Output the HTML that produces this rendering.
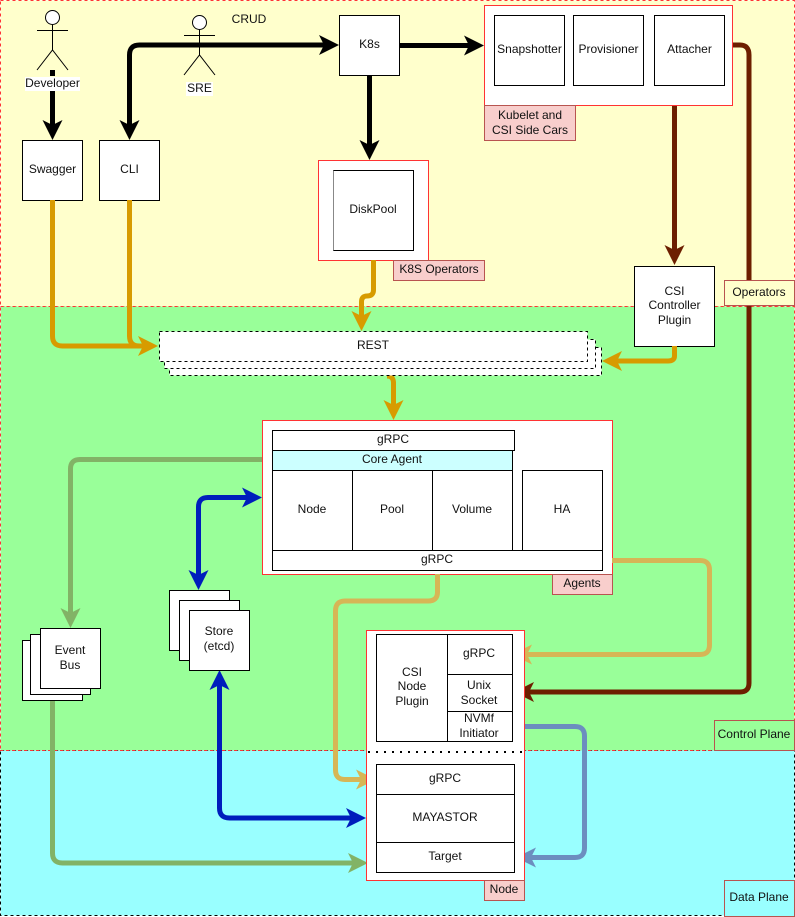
<!DOCTYPE html>
<html><head><meta charset="utf-8"><style>
html,body{margin:0;padding:0;background:#fff}
svg{display:block;font-family:"Liberation Sans",sans-serif;font-size:12px}
text{text-anchor:middle;dominant-baseline:middle;fill:#111}
</style></head><body>
<svg width="795" height="917" viewBox="0 0 795 917" xmlns="http://www.w3.org/2000/svg">
<defs>
<marker id="mk" viewBox="0 0 20 20" refX="14" refY="10" markerUnits="userSpaceOnUse" markerWidth="20" markerHeight="20" orient="auto-start-reverse"><path d="M0,0 L20,10 L0,20 L5,10Z" fill="#000"/></marker>
<marker id="mo" viewBox="0 0 20 20" refX="14" refY="10" markerUnits="userSpaceOnUse" markerWidth="20" markerHeight="20" orient="auto-start-reverse"><path d="M0,0 L20,10 L0,20 L5,10Z" fill="#d79b00"/></marker>
<marker id="mt" viewBox="0 0 20 20" refX="14" refY="10" markerUnits="userSpaceOnUse" markerWidth="20" markerHeight="20" orient="auto-start-reverse"><path d="M0,0 L20,10 L0,20 L5,10Z" fill="#d6b656"/></marker>
<marker id="mg" viewBox="0 0 20 20" refX="14" refY="10" markerUnits="userSpaceOnUse" markerWidth="20" markerHeight="20" orient="auto-start-reverse"><path d="M0,0 L20,10 L0,20 L5,10Z" fill="#82b366"/></marker>
<marker id="mb" viewBox="0 0 20 20" refX="14" refY="10" markerUnits="userSpaceOnUse" markerWidth="20" markerHeight="20" orient="auto-start-reverse"><path d="M0,0 L20,10 L0,20 L5,10Z" fill="#001dbc"/></marker>
<marker id="ms" viewBox="0 0 20 20" refX="14" refY="10" markerUnits="userSpaceOnUse" markerWidth="20" markerHeight="20" orient="auto-start-reverse"><path d="M0,0 L20,10 L0,20 L5,10Z" fill="#6c8ebf"/></marker>
<marker id="mr" viewBox="0 0 20 20" refX="14" refY="10" markerUnits="userSpaceOnUse" markerWidth="20" markerHeight="20" orient="auto-start-reverse"><path d="M0,0 L20,10 L0,20 L5,10Z" fill="#6d1f00"/></marker>
</defs>
<!-- regions -->
<rect x="0.5" y="0.5" width="794" height="306" fill="#ffffcc" stroke="#ff3333" stroke-dasharray="3,3"/>
<rect x="0.5" y="306.5" width="794" height="444" fill="#99ff99" stroke="#ff3333" stroke-dasharray="3,3"/>
<rect x="0.5" y="750.5" width="794" height="165" fill="#99ffff" stroke="#000" stroke-dasharray="3,3"/>
<line x1="0" y1="750.5" x2="795" y2="750.5" stroke="#ff3333" stroke-dasharray="3,3"/>

<!-- actors -->
<g stroke="#000" fill="none" stroke-width="1">
<circle cx="52.5" cy="17.5" r="7" fill="#fff"/><line x1="52.5" y1="25" x2="52.5" y2="50"/><line x1="37" y1="30.5" x2="68" y2="30.5"/><path d="M37,70 L52.5,50 L68,70"/>
<circle cx="199.5" cy="22.5" r="7" fill="#fff"/><line x1="199.5" y1="30" x2="199.5" y2="55"/><line x1="184" y1="35.5" x2="215" y2="35.5"/><path d="M184,75 L199.5,55 L215,75"/>
</g>
<rect x="25" y="77" width="55" height="14" fill="#fff"/><text x="52.5" y="84">Developer</text>
<rect x="186" y="82" width="27" height="14" fill="#fff"/><text x="199.5" y="89">SRE</text>
<text x="249" y="20">CRUD</text>

<!-- black arrows -->
<g stroke="#000" stroke-width="5" fill="none">
<path d="M52.5,70 V76 M52.5,91 V134" marker-end="url(#mk)"/>
<path d="M129.5,134 V55 Q129.5,45 139.5,45 H333" marker-start="url(#mk)" marker-end="url(#mk)"/>
<path d="M399,45.5 H478" marker-end="url(#mk)"/>
<path d="M369.5,75 V154" marker-end="url(#mk)"/>
</g>
<path d="M674.5,105 V259" stroke="#6d1f00" stroke-width="5" fill="none" marker-end="url(#mr)"/>
<path d="M732,45 H740 Q749,45 749,55 V683 Q749,692 740,692 H520" stroke="#6d1f00" stroke-width="5" fill="none" marker-end="url(#mr)"/>

<!-- top boxes -->
<g stroke="#000" fill="#fff">
<rect x="339.5" y="15.5" width="60" height="60"/>
<rect x="22.5" y="140.5" width="60" height="60"/>
<rect x="99.5" y="140.5" width="60" height="60"/>
</g>
<text x="369.5" y="45">K8s</text><text x="52.5" y="170">Swagger</text><text x="129.5" y="170">CLI</text>
<rect x="484.5" y="5.5" width="248" height="100" fill="#fff" stroke="#ff3333"/>
<g stroke="#000" fill="#fff"><rect x="494.5" y="15.5" width="70" height="70"/><rect x="573.5" y="15.5" width="70" height="70"/><rect x="654.5" y="15.5" width="70" height="70"/></g>
<text x="529.5" y="50">Snapshotter</text><text x="608.5" y="50">Provisioner</text><text x="689.5" y="50">Attacher</text>
<rect x="484.5" y="105.5" width="91" height="35" fill="#f8cecc" stroke="#b85450"/>
<text x="530" y="116">Kubelet and</text><text x="530" y="131">CSI Side Cars</text>
<rect x="318.5" y="160.5" width="110" height="100" fill="#fff" stroke="#ff3333"/>
<rect x="333.5" y="170.5" width="80" height="80" fill="#fff" stroke="#000"/>
<line x1="333.5" y1="170.5" x2="333.5" y2="250.5" stroke="#888" stroke-width="1"/>
<text x="373" y="210">DiskPool</text>
<rect x="393.5" y="260.5" width="91" height="20" fill="#f8cecc" stroke="#b85450"/><text x="439" y="270">K8S Operators</text>
<rect x="634.5" y="266.5" width="80" height="80" fill="#fff" stroke="#000"/>
<text x="674.5" y="292">CSI</text><text x="674.5" y="306">Controller</text><text x="674.5" y="321">Plugin</text>
<rect x="724.5" y="280.5" width="70" height="25" fill="#ffffcc" stroke="#b85450"/><text x="759" y="293">Operators</text>

<!-- orange arrows -->
<g stroke="#d79b00" stroke-width="5" fill="none">
<path d="M52.5,200 V336 Q52.5,346 62.5,346 H152" marker-end="url(#mo)"/>
<path d="M129.5,200 V336 Q129.5,346 139.5,346"/>
<path d="M373.5,260 V290 Q373.5,296 367,296 Q361.5,296 361.5,302 V325" marker-end="url(#mo)"/>
<path d="M674.5,346 V356 Q674.5,361 668,361 H608" marker-end="url(#mo)"/>
<path d="M387,376 Q393.5,376 393.5,383 V414" marker-end="url(#mo)"/>
</g>

<!-- REST -->
<g fill="#fff" stroke="#000" stroke-dasharray="3,3">
<rect x="169.5" y="347.5" width="432" height="28"/>
<rect x="164.5" y="339.5" width="431" height="29"/>
<rect x="159.5" y="331.5" width="428" height="30"/>
</g>
<text x="373" y="346">REST</text>

<!-- Agents -->
<rect x="262.5" y="420.5" width="350" height="154" fill="#fff" stroke="#ff3333"/>
<g stroke="#000" fill="#fff">
<rect x="272.5" y="430.5" width="242" height="20"/>
<rect x="272.5" y="450.5" width="240" height="20" fill="#ccffff"/>
<rect x="272.5" y="470.5" width="80" height="80"/><rect x="352.5" y="470.5" width="80" height="80"/><rect x="432.5" y="470.5" width="80" height="80"/>
<rect x="522.5" y="470.5" width="80" height="80"/>
<rect x="272.5" y="550.5" width="330" height="20"/>
</g>
<text x="393" y="440">gRPC</text><text x="392" y="460">Core Agent</text>
<text x="312" y="510">Node</text><text x="392" y="510">Pool</text><text x="472" y="510">Volume</text><text x="562" y="510">HA</text>
<text x="437" y="560">gRPC</text>
<rect x="552.5" y="574.5" width="60" height="20" fill="#f8cecc" stroke="#b85450"/><text x="582" y="584">Agents</text>

<!-- green-gray -->
<g stroke="#82b366" stroke-width="5" fill="none">
<path d="M262,459.5 H80 Q70.5,459.5 70.5,469 V622" marker-end="url(#mg)"/>
<path d="M52.5,700 V853 Q52.5,863 62.5,863 H362" marker-end="url(#mg)"/>
</g>
<!-- blue -->
<g stroke="#001dbc" stroke-width="5" fill="none">
<path d="M198.5,584 V507 Q198.5,497.5 208,497.5 H256" marker-start="url(#mb)" marker-end="url(#mb)"/>
<path d="M219.5,676 V808 Q219.5,818 229.5,818 H360" marker-start="url(#mb)" marker-end="url(#mb)"/>
</g>
<!-- tan -->
<g stroke="#d6b656" stroke-width="5" fill="none">
<path d="M437.5,574 V592 Q437.5,601 428,601 H345 Q335.5,601 335.5,611 V770 Q335.5,779.5 345,779.5 H370" marker-end="url(#mt)"/>
<path d="M612,560.5 H700 Q709.5,560.5 709.5,570 V645 Q709.5,654.5 700,654.5 H518" marker-end="url(#mt)"/>
</g>
<path d="M512,726.5 H575 Q584.5,726.5 584.5,736 V848 Q584.5,857.5 575,857.5 H522" stroke="#6c8ebf" stroke-width="5" fill="none" marker-end="url(#ms)"/>

<!-- Event bus -->
<g fill="#fff" stroke="#000"><rect x="22.5" y="640.5" width="60" height="60"/><rect x="30.5" y="634.5" width="60" height="60"/><rect x="40.5" y="628.5" width="60" height="60"/></g>
<text x="70" y="651">Event</text><text x="70" y="666">Bus</text>
<!-- Store -->
<g fill="#fff" stroke="#000"><rect x="169.5" y="590.5" width="60" height="60"/><rect x="179.5" y="600.5" width="60" height="60"/><rect x="189.5" y="610.5" width="60" height="60"/></g>
<text x="219" y="632">Store</text><text x="219" y="647">(etcd)</text>

<!-- Node -->
<rect x="366.5" y="630.5" width="158" height="250" fill="#fff" stroke="#ff3333"/>
<g stroke="#000" fill="#fff">
<rect x="376.5" y="634.5" width="71" height="107"/>
<rect x="447.5" y="634.5" width="65" height="40"/>
<rect x="447.5" y="674.5" width="65" height="37"/>
<rect x="447.5" y="711.5" width="65" height="30"/>
<rect x="376.5" y="764.5" width="138" height="30"/>
<rect x="376.5" y="794.5" width="138" height="48"/>
<rect x="376.5" y="842.5" width="138" height="30"/>
</g>
<line x1="368" y1="752" x2="522" y2="752" stroke="#000" stroke-width="2" stroke-dasharray="2,6"/>
<text x="412" y="673">CSI</text><text x="412" y="687">Node</text><text x="412" y="702">Plugin</text>
<text x="479" y="654">gRPC</text><text x="479" y="686">Unix</text><text x="479" y="701">Socket</text>
<text x="479" y="719">NVMf</text><text x="479" y="734">Initiator</text>
<text x="445" y="779">gRPC</text><text x="445" y="818">MAYASTOR</text><text x="445" y="857">Target</text>
<rect x="484.5" y="880.5" width="40" height="20" fill="#f8cecc" stroke="#b85450"/><text x="504" y="890">Node</text>
<rect x="714.5" y="720.5" width="80" height="30" fill="#99ff99" stroke="#b85450"/><text x="754" y="735">Control Plane</text>
<rect x="724.5" y="880.5" width="70" height="36" fill="#99ffff" stroke="#b85450"/><text x="759" y="898">Data Plane</text>
</svg>
</body></html>
